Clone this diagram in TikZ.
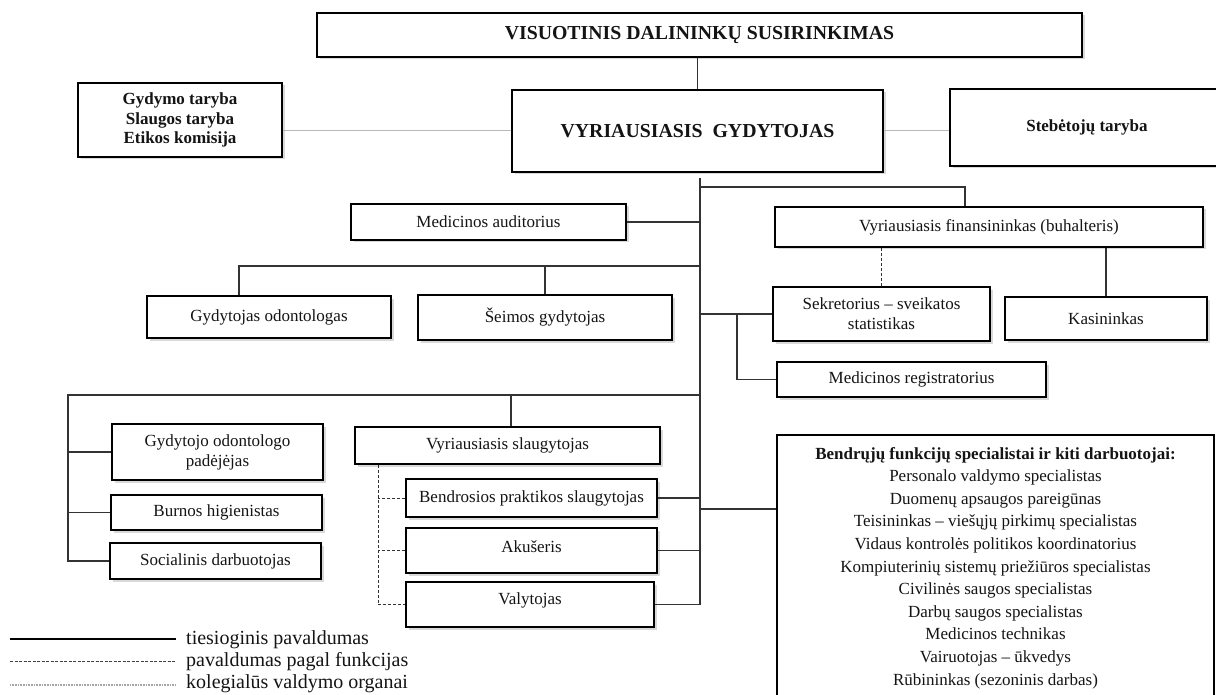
\documentclass[tikz,border=0pt]{standalone}
\usepackage{fontspec}
\setmainfont{Liberation Serif}
\usetikzlibrary{shadows,calc}
\begin{document}
\begin{tikzpicture}[x=1pt,y=-1pt,
  every node/.style={font=\fontsize{17}{20}\selectfont, text=black!92, inner sep=0pt},
  box/.style={draw=black, line width=1.8pt, fill=white, align=center,
    drop shadow={shadow xshift=2.5pt, shadow yshift=-2.5pt, opacity=0.3}},
  plainbox/.style={draw=black, line width=1.8pt, fill=white},
  conn/.style={line width=1.1pt, draw=black!80},
  func/.style={line width=0.9pt, draw=black!80, dash pattern=on 3pt off 2pt},
  koleg/.style={line width=1pt, draw=black!28},
  bigbold/.style={font=\fontsize{19.8}{22}\selectfont\bfseries},
  smbold/.style={font=\fontsize{17}{19.5}\selectfont\bfseries},
  legtxt/.style={anchor=west, font=\fontsize{20}{22}\selectfont},
]
\useasboundingbox (0,0) rectangle (1216,695);
\clip (0,0) rectangle (1216,695);

% ---------- boxes ----------
\node[box, bigbold, minimum width=765pt, minimum height=44pt] (vis) at (699.5,35) {VISUOTINIS DALININKŲ SUSIRINKIMAS};
\node[box, smbold, minimum width=204pt, minimum height=74pt] (kol) at (180,120) {Gydymo taryba\\Slaugos taryba\\Etikos komisija};
\node[box, bigbold, minimum width=371pt, minimum height=82pt] (vg) at (697.5,131) {VYRIAUSIASIS\hspace{10pt}GYDYTOJAS};
\node[box, smbold, minimum width=274pt, minimum height=77pt] (steb) at (1087,127.5) {Stebėtojų taryba};

\node[box, minimum width=275pt, minimum height=36pt] (aud) at (488.5,222) {Medicinos auditorius};
\node[box, minimum width=428pt, minimum height=40pt] (fin) at (989,227) {Vyriausiasis finansininkas (buhalteris)};

\node[box, minimum width=244pt, minimum height=42pt] (go) at (269,317) {Gydytojas odontologas};
\node[box, minimum width=254pt, minimum height=45pt] (sg) at (545,317.5) {Šeimos gydytojas};
\node[box, minimum width=217pt, minimum height=54pt] (sek) at (881.5,314) {Sekretorius – sveikatos\\statistikas};
\node[box, minimum width=202pt, minimum height=43pt] (kas) at (1106,318.5) {Kasininkas};
\node[box, minimum width=269pt, minimum height=35pt] (reg) at (911.5,379.5) {Medicinos registratorius};

\node[box, minimum width=211pt, minimum height=56pt] (gop) at (217.5,452) {Gydytojo odontologo\\padėjėjas};
\node[box, minimum width=211pt, minimum height=35pt] (bh) at (216.5,512.5) {Burnos higienistas};
\node[box, minimum width=211pt, minimum height=36pt] (sd) at (215.5,561) {Socialinis darbuotojas};

\node[box, minimum width=305pt, minimum height=37pt] (vs) at (507.5,445.5) {Vyriausiasis slaugytojas};
\node[box, minimum width=251pt, minimum height=38pt] (bps) at (531.5,498) {Bendrosios praktikos slaugytojas};
\node[box, minimum width=251pt, minimum height=45pt] (aku) at (531.5,550.5) {};
\node at ([yshift=4pt]aku.center) {Akušeris};
\node[box, minimum width=248pt, minimum height=45pt] (val) at (530,604.5) {};
\node at ([yshift=4pt]val.center) {Valytojas};

\node[plainbox, minimum width=437pt, minimum height=290pt] (bf) at (995.5,580) {};
\node[anchor=north, align=center, font=\fontsize{17}{22.6}\selectfont] (bft) at (995.5,447) {%
\textbf{Bendrųjų funkcijų specialistai ir kiti darbuotojai:}\\
Personalo valdymo specialistas\\
Duomenų apsaugos pareigūnas\\
Teisininkas – viešųjų pirkimų specialistas\\
Vidaus kontrolės politikos koordinatorius\\
Kompiuterinių sistemų priežiūros specialistas\\
Civilinės saugos specialistas\\
Darbų saugos specialistas\\
Medicinos technikas\\
Vairuotojas – ūkvedys\\
Rūbininkas (sezoninis darbas)};

% ---------- helper coordinates ----------
\coordinate (ttop) at (700,178);
\coordinate (fj) at (965,187);
\coordinate (g1) at (239,266);
\coordinate (sx) at (737,312);
\coordinate (b1) at (68,395);
\coordinate (b2) at (511,395);
\coordinate (d1) at (378,464);
\coordinate (bfy) at (700,509);

% ---------- connectors ----------
\draw[conn] (vg.north) -- (vg.north |- vis.south);
\draw[koleg] (vg.west) -- (vg.west -| kol.east);
\draw[koleg] (vg.east) -- (vg.east -| steb.west);

\draw[conn] (ttop) -- (ttop |- val.east) -- (val.east);
\draw[conn] (fj -| ttop) -- (fj) -- (fj |- fin.north);
\draw[conn] (aud.east) -- (aud.east -| ttop);
\draw[conn] (g1 |- go.north) -- (g1) -- (g1 -| ttop);
\draw[conn] (sg.north) -- (sg.north |- g1);
\draw[conn] (sek.west) -- (sek.west -| ttop);
\draw[conn] (sek.west -| sx) |- (reg.west);
\draw[func] (sek.north) -- (sek.north |- fin.south);
\draw[conn] (kas.north) -- (kas.north |- fin.south);

\draw[conn] (b1 -| ttop) -- (b1) -- (b1 |- sd.west) -- (sd.west);
\draw[conn] (gop.west) -- (gop.west -| b1);
\draw[conn] (bh.west) -- (bh.west -| b1);
\draw[conn] (b2) -- (b2 |- vs.north);

\draw[func] (vs.south -| d1) |- (val.west);
\draw[func] (bps.west) -- (bps.west -| d1);
\draw[func] (aku.west) -- (aku.west -| d1);

\draw[conn] (bps.east) -- (bps.east -| ttop);
\draw[conn] (aku.east) -- (aku.east -| ttop);
\draw[conn] (bfy) -- (bfy -| bf.west);

% ---------- legend ----------
\coordinate (la1) at (10,639);
\coordinate (lb1) at (176,639);
\coordinate (la2) at (10,661);
\coordinate (lb2) at (176,661);
\coordinate (la3) at (10,685);
\coordinate (lb3) at (176,685);
\draw[line width=1.3pt, draw=black] (la1) -- (lb1);
\draw[line width=0.8pt, draw=black!75, dash pattern=on 3pt off 1.5pt] (la2) -- (lb2);
\draw[line width=1.6pt, draw=black!35, dash pattern=on 0.8pt off 0.8pt] (la3) -- (lb3);
\node[legtxt] (lt1) at (186,640) {tiesioginis pavaldumas};
\node[legtxt] (lt2) at (186,662) {pavaldumas pagal funkcijas};
\node[legtxt] (lt3) at (186,684) {kolegialūs valdymo organai};
\end{tikzpicture}
\end{document}
